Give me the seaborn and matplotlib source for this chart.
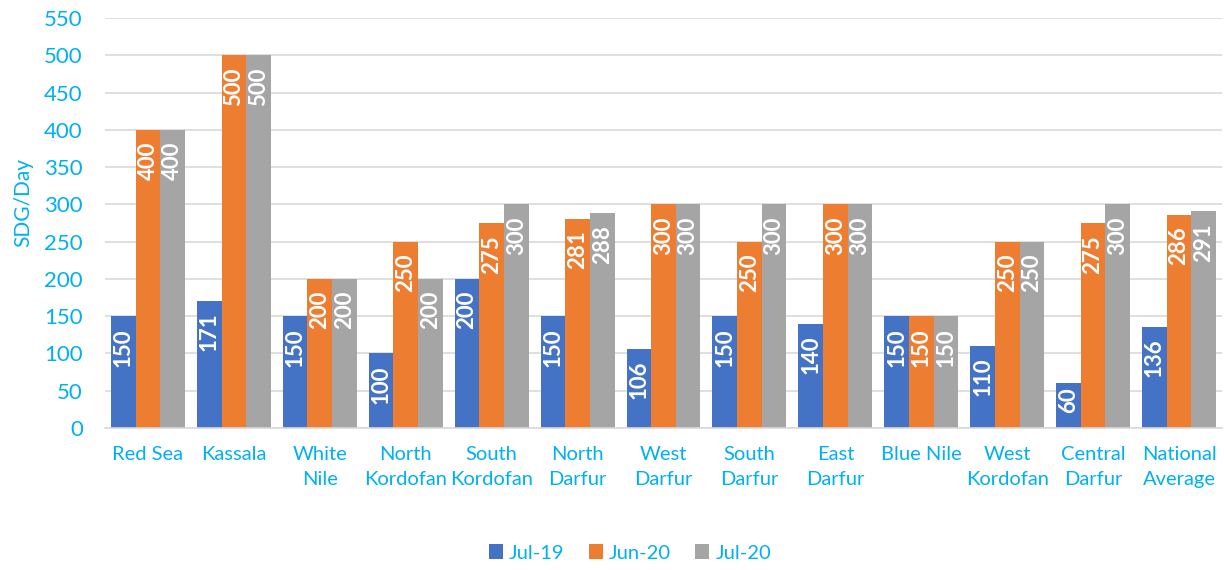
import matplotlib
matplotlib.use("Agg")
import matplotlib.pyplot as plt
import seaborn as sns
import pandas as pd
import numpy as np

categories = ["Red Sea", "Kassala", "White\nNile", "North\nKordofan", "South\nKordofan",
              "North\nDarfur", "West\nDarfur", "South\nDarfur", "East\nDarfur", "Blue Nile",
              "West\nKordofan", "Central\nDarfur", "National\nAverage"]
series_names = ["Jul-19", "Jun-20", "Jul-20"]
jul19 = [150, 171, 150, 100, 200, 150, 106, 150, 140, 150, 110, 60, 136]
jun20 = [400, 500, 200, 250, 275, 281, 300, 250, 300, 150, 250, 275, 286]
jul20 = [400, 500, 200, 200, 300, 288, 300, 300, 300, 150, 250, 300, 291]
yticks = list(range(0, 551, 50))

colors = ["#4472C4", "#ED7D31", "#A5A5A5"]
cyan = "#00B0F0"

rows = []
for name, vals in zip(series_names, [jul19, jun20, jul20]):
    for c, v in zip(categories, vals):
        rows.append({"Region": c, "Period": name, "Value": v})
df = pd.DataFrame(rows)

sns.set_style("white")
plt.rcParams["font.family"] = ["Lato", "DejaVu Sans"]

fig = plt.figure(figsize=(12.24, 5.70), dpi=100)
ax = fig.add_axes([105/1224, 1 - 428/570, (1222-105)/1224, (428-18)/570])

sns.barplot(data=df, x="Region", y="Value", hue="Period", order=categories,
            hue_order=series_names, palette=colors, width=0.86, gap=0,
            saturation=1, ax=ax, legend=True, edgecolor="none", linewidth=0)

ax.set_ylim(0, 550)
ax.set_xlim(-0.5, len(categories) - 0.5)
ax.set_yticks(yticks)
ax.set_yticklabels([str(t) for t in yticks], color=cyan, fontsize=16)
ax.tick_params(axis="x", colors=cyan, labelsize=14.5, length=0, pad=13)
ax.tick_params(axis="y", length=0, pad=16)
for lbl in ax.get_xticklabels():
    lbl.set_color(cyan)
    lbl.set_linespacing(1.6)
ax.yaxis.grid(True, color="#D9D9D9", linewidth=1.2)
ax.set_axisbelow(True)
for s in ["top", "right", "left"]:
    ax.spines[s].set_visible(False)
ax.spines["bottom"].set_color("#D9D9D9")
ax.spines["bottom"].set_linewidth(1.2)
ax.set_xlabel("")
ax.set_ylabel("SDG/Day", color=cyan, fontsize=15)
ax.yaxis.set_label_coords(-72/1117, 0.55)

# value labels
for cont in ax.containers:
    for bar in cont:
        v = bar.get_height()
        x = bar.get_x() + bar.get_width() / 2
        top = v - (16 if v >= 80 else 6)
        ax.text(x, top, f"{int(round(v))}", rotation=90, ha="center", va="top",
                color="white", fontsize=16, fontweight="bold")

handles, labels = ax.get_legend_handles_labels()
ax.legend_.remove()
leg = fig.legend(handles, labels, loc="center", bbox_to_anchor=(630/1224, 1 - 553/570),
                 ncol=3, frameon=False, fontsize=14.5, handlelength=0.7, handleheight=0.7,
                 handletextpad=0.3, columnspacing=1.2)
for t in leg.get_texts():
    t.set_color(cyan)

fig.savefig("out.png", dpi=100)
